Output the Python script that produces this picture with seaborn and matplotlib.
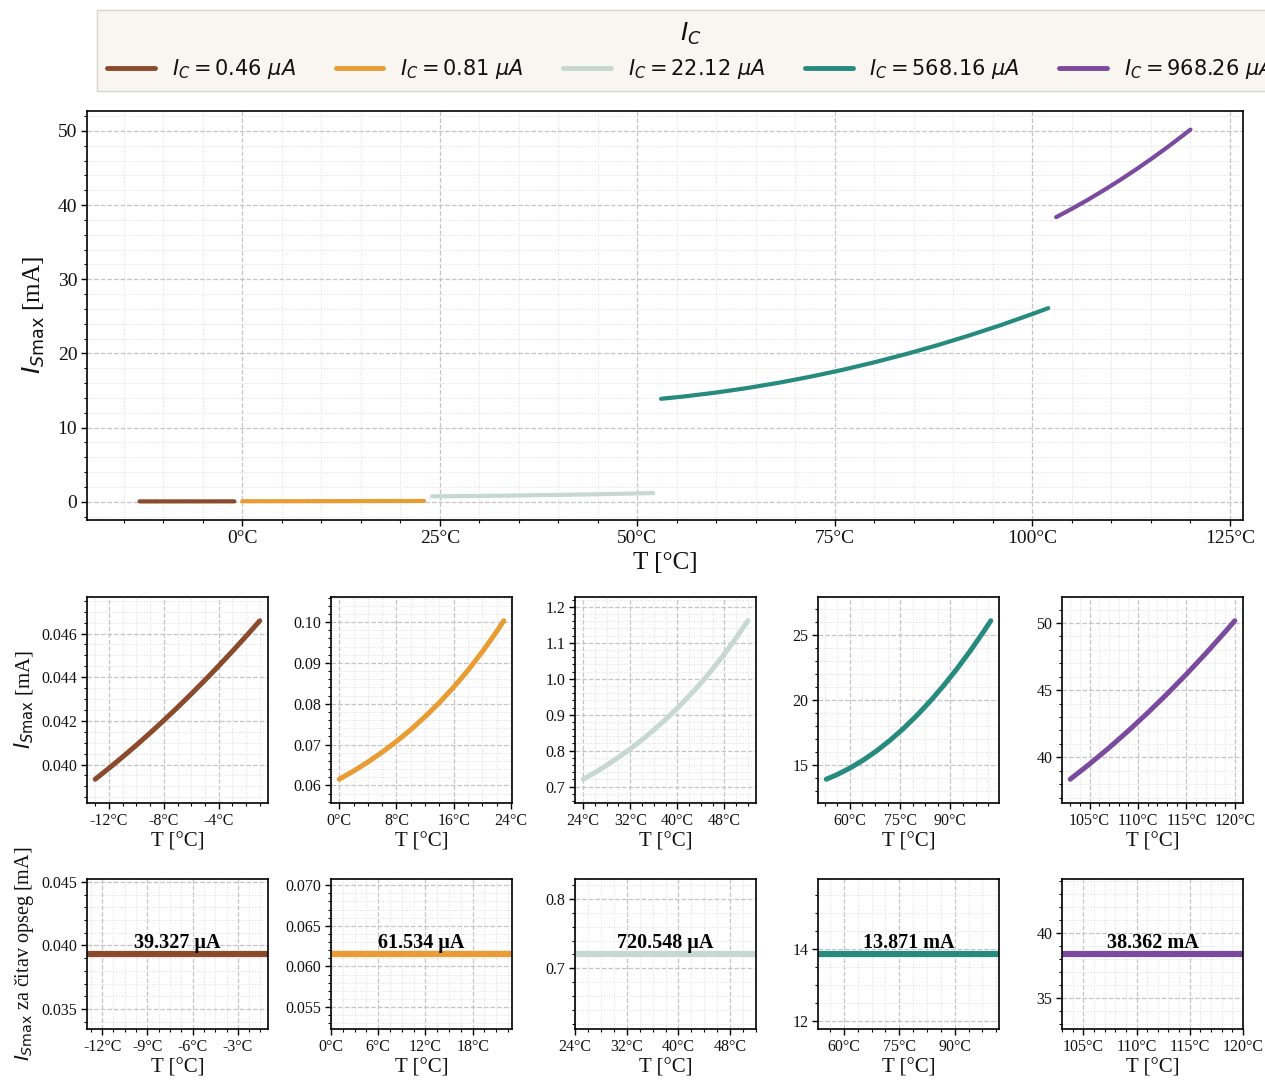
import numpy as np
import pandas as pd
import matplotlib
matplotlib.use("Agg")
import matplotlib.pyplot as plt
import seaborn as sns
from matplotlib.ticker import AutoMinorLocator, FuncFormatter, FixedLocator
from matplotlib.lines import Line2D

# ---------------- data ----------------
ic_values = ["0.46", "0.81", "22.12", "568.16", "968.26"]   # µA
colors = ["#8b4a2b", "#e89c33", "#c6d8d1", "#268a7e", "#7b4a9e"]

t_1 = [-13, -12, -11, -10, -9, -8, -7, -6, -5, -4, -3, -2, -1]
i_1 = [0.039327, 0.039830, 0.040349, 0.040887, 0.041444, 0.042020, 0.042615,
       0.043229, 0.043862, 0.044514, 0.045185, 0.045875, 0.046584]

t_2 = [0, 2, 4, 6, 8, 10, 12, 14, 16, 18, 20, 22, 23]
i_2 = [0.061534, 0.06353, 0.06573, 0.06814, 0.07078, 0.07367, 0.07683,
       0.08028, 0.08406, 0.08819, 0.09272, 0.09766, 0.10031]

t_3 = [24, 26, 28, 30, 32, 34, 36, 38, 40, 42, 44, 46, 48, 50, 52]
i_3 = [0.720548, 0.73937, 0.75965, 0.78149, 0.80498, 0.83024, 0.85739, 0.88657,
       0.91791, 0.95158, 0.98773, 1.02659, 1.06832, 1.11320, 1.16145]

t_4 = [53, 56, 60, 64, 68, 72, 76, 80, 84, 88, 92, 96, 100, 102]
i_4 = [13.871, 14.198, 14.720, 15.340, 16.057, 16.872, 17.784, 18.794,
       19.902, 21.107, 22.410, 23.810, 25.308, 26.094]

t_5 = [103, 105, 107, 109, 111, 113, 115, 117, 119, 120]
i_5 = [38.362, 39.496, 40.698, 41.968, 43.306, 44.712, 46.186, 47.728,
       49.338, 50.169]

temps = [t_1, t_2, t_3, t_4, t_5]
currents = [i_1, i_2, i_3, i_4, i_5]

main_xticks = [0, 25, 50, 75, 100, 125]
top_xticks = [[-12, -8, -4], [0, 8, 16, 24], [24, 32, 40, 48], [60, 75, 90], [105, 110, 115, 120]]
bot_xticks = [[-12, -9, -6, -3], [0, 6, 12, 18], [24, 32, 40, 48], [60, 75, 90], [105, 110, 115, 120]]

# ---------------- style ----------------
sns.set_theme(style="ticks")
plt.rcParams["font.family"] = ["Liberation Serif", "DejaVu Serif"]
plt.rcParams["mathtext.fontset"] = "dejavusans"
plt.rcParams["axes.edgecolor"] = "black"
plt.rcParams["axes.linewidth"] = 1.2
plt.rcParams["xtick.color"] = "black"
plt.rcParams["ytick.color"] = "black"
plt.rcParams["xtick.labelcolor"] = "#111111"
plt.rcParams["ytick.labelcolor"] = "#111111"
plt.rcParams["axes.labelcolor"] = "#111111"
plt.rcParams["text.color"] = "#111111"
plt.rcParams["xtick.direction"] = "out"
plt.rcParams["ytick.direction"] = "out"

fig = plt.figure(figsize=(12.65, 10.8), dpi=100)
W, H = 1265, 1080

def add_ax(l, t, r, b):
    return fig.add_axes([l / W, 1 - b / H, (r - l) / W, (b - t) / H])

deg_fmt = FuncFormatter(lambda x, p: f"{x:.0f}°C")

def style_ax(ax, lsize):
    ax.minorticks_on()
    ax.xaxis.set_minor_locator(AutoMinorLocator())
    ax.yaxis.set_minor_locator(AutoMinorLocator())
    ax.grid(which="major", linestyle="--", color="#c4c4c4", linewidth=0.9)
    ax.grid(which="minor", linestyle=":", color="#dedede", linewidth=0.7)
    ax.tick_params(which="major", length=4, width=1.0, labelsize=lsize, pad=3)
    ax.tick_params(which="minor", length=2, width=0.8)
    ax.set_axisbelow(True)
    for s in ax.spines.values():
        s.set_visible(True)
        s.set_color("black")

# ---------------- main axes ----------------
ax = add_ax(87, 111, 1243, 520)
for k in range(5):
    df = pd.DataFrame({"T": temps[k], "I": currents[k]})
    sns.lineplot(data=df, x="T", y="I", ax=ax, color=colors[k], linewidth=3.0,
                 solid_capstyle="round")
style_ax(ax, 14)
ax.xaxis.set_major_locator(FixedLocator(main_xticks))
ax.xaxis.set_major_formatter(deg_fmt)
ax.xaxis.set_minor_locator(AutoMinorLocator(5))
ax.set_xlabel("T [°C]", fontsize=18, labelpad=4)
ax.set_ylabel(r"$I_{S\mathrm{max}}$ [mA]", fontsize=18, labelpad=8)

lefts = [87, 331, 575, 818, 1062]
pw = 181

def fmt_val(v):
    if v < 1:
        return f"{v*1000:.3f} µA"
    return f"{v:.3f} mA"

for k in range(5):
    l = lefts[k]
    # middle row
    a2 = add_ax(l, 597, l + pw, 803)
    df = pd.DataFrame({"T": temps[k], "I": currents[k]})
    sns.lineplot(data=df, x="T", y="I", ax=a2, color=colors[k], linewidth=3.6,
                 solid_capstyle="round")
    a2.margins(x=0.05, y=0.15)
    style_ax(a2, 11.5)
    a2.xaxis.set_major_locator(FixedLocator(top_xticks[k]))
    a2.xaxis.set_major_formatter(deg_fmt)
    a2.set_xlabel("T [°C]", fontsize=15, labelpad=3)
    a2.set_ylabel(r"$I_{S\mathrm{max}}$ [mA]" if k == 0 else "", fontsize=15)

    # bottom row
    a3 = add_ax(l, 879, l + pw, 1029)
    vmin = min(currents[k])
    df3 = pd.DataFrame({"T": [temps[k][0], temps[k][-1]], "I": [vmin, vmin]})
    sns.lineplot(data=df3, x="T", y="I", ax=a3, color=colors[k], linewidth=4.5,
                 solid_capstyle="butt")
    a3.set_xlim(temps[k][0], temps[k][-1])
    a3.set_ylim(vmin * 0.85, vmin * 1.15)
    style_ax(a3, 11.5)
    a3.xaxis.set_major_locator(FixedLocator(bot_xticks[k]))
    a3.xaxis.set_major_formatter(deg_fmt)
    a3.set_xlabel("T [°C]", fontsize=15, labelpad=3)
    a3.set_ylabel(r"$I_{S\mathrm{max}}$ za čitav opseg [mA]" if k == 0 else "", fontsize=14.5)
    a3.text((temps[k][0] + temps[k][-1]) / 2, vmin * 1.0015, fmt_val(vmin),
            ha="center", va="bottom", fontsize=14.5, fontweight="bold", color="black")

# ---------------- legend ----------------
handles = [Line2D([0], [0], color=c, linewidth=3.5) for c in colors]
labels = [rf"$I_C = {v}\ \mu A$" for v in ic_values]
leg = fig.legend(handles, labels, loc="upper left",
                 bbox_to_anchor=(97 / W, 1 - 10 / H), ncol=5,
                 title=r"$I_C$", fontsize=15, title_fontsize=18,
                 frameon=True, facecolor="#f9f6f1", edgecolor="#d8d5cf",
                 handlelength=2.3, handletextpad=0.8, columnspacing=1.9,
                 borderaxespad=0, borderpad=0.5, fancybox=False)
leg.get_frame().set_alpha(1)

fig.savefig("out.png", dpi=100)
